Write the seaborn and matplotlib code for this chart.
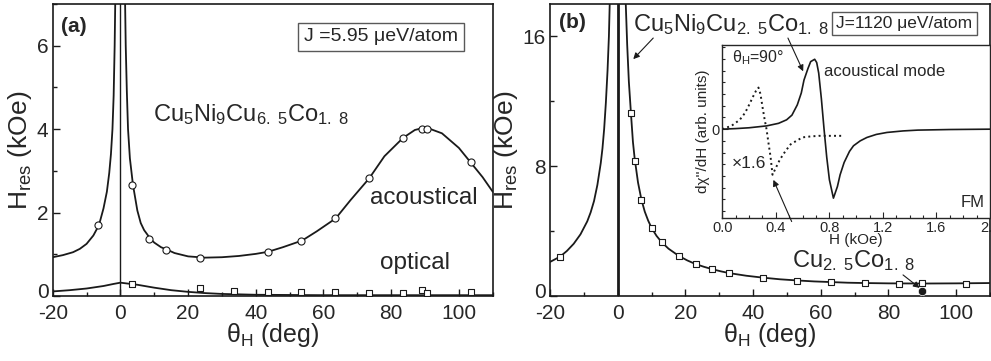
import matplotlib
matplotlib.use("Agg")
import matplotlib.pyplot as plt
import seaborn as sns
from matplotlib.ticker import MultipleLocator
from matplotlib.transforms import ScaledTranslation

# ---------------- datos panel (a) ----------------
theta_a_ac = [-6.5, 3.5, 8.5, 13.5, 23.5, 43.5, 53.5, 63.5, 73.5, 83.5, 89, 90.5, 103.5]
h_a_ac = [1.71, 2.67, 1.37, 1.11, 0.92, 1.06, 1.33, 1.86, 2.82, 3.79, 4.01, 4.01, 3.21]
theta_a_op = [3.5, 23.5, 33.5, 43.5, 53.5, 63.5, 73.5, 83.5, 89, 90.5, 103.5]
h_a_op = [0.29, 0.19, 0.11, 0.10, 0.09, 0.09, 0.08, 0.08, 0.14, 0.08, 0.09]

# curva teorica acustica (a), rama izquierda y derecha
fit_a_left_x = [-20, -17, -14, -12, -10, -8, -7, -6, -5, -4, -3.3, -2.8, -2.35, -2.0, -1.7, -1.5]
fit_a_left_y = [0.93, 0.98, 1.05, 1.13, 1.25, 1.45, 1.6, 1.8, 2.1, 2.5, 2.95, 3.4, 4.0, 4.8, 6.0, 7.2]
fit_a_right_x = [1.35, 1.57, 1.9, 2.25, 2.8, 3.7, 5, 6, 7, 8.8, 10, 12, 13.8, 16, 20, 25, 30, 35,
                 40, 43.6, 48, 53.7, 58, 63.6, 68, 73.5, 78, 83.5, 87, 89, 91, 95, 100, 103.4, 107, 110]
fit_a_right_y = [7.2, 6.0, 4.9, 4.0, 3.3, 2.67, 2.05, 1.75, 1.58, 1.38, 1.28, 1.17, 1.11, 1.03, 0.95,
                 0.92, 0.93, 0.96, 1.01, 1.06, 1.17, 1.33, 1.55, 1.86, 2.3, 2.82, 3.35, 3.79, 3.98,
                 4.02, 4.02, 3.9, 3.55, 3.21, 2.85, 2.5]
# curva optica (a)
fit_a_op_x = [-20, -15, -10, -5, -2, 0, 2, 5, 10, 15, 20, 25, 30, 40, 50, 60, 80, 110]
fit_a_op_y = [0.11, 0.14, 0.18, 0.24, 0.29, 0.32, 0.30, 0.27, 0.20, 0.14, 0.10, 0.07, 0.05, 0.03,
              0.025, 0.02, 0.02, 0.02]

# ---------------- datos panel (b) ----------------
theta_b = [-17, 4, 5, 7, 10, 13, 18, 23, 28, 33, 43, 53, 63, 73, 83, 90, 103]
h_b = [2.43, 11.3, 8.33, 5.93, 4.18, 3.31, 2.49, 1.95, 1.65, 1.40, 1.13, 0.95, 0.86, 0.78, 0.76, 0.78, 0.76]
theta_b_fm = [90]
h_b_fm = [0.31]

fit_b_left_x = [-20, -17, -15, -13, -11, -9, -8, -7, -6, -5, -4.5, -4, -3.5, -3, -2.6, -2.3]
fit_b_left_y = [2.1, 2.43, 2.78, 3.22, 3.8, 4.6, 5.15, 5.85, 6.85, 8.2, 9.1, 10.3, 11.9, 13.9, 16, 18.5]
fit_b_right_x = [2.3, 2.8, 3.3, 4, 4.5, 5, 6, 7, 8, 9, 10, 11.5, 13, 15, 18, 20.5, 23, 25.5, 28,
                 30.5, 33, 38, 43, 48, 53, 58, 63, 68, 73, 80, 90, 100, 110]
fit_b_right_y = [18.5, 15.5, 13.2, 11.0, 9.5, 8.5, 7.0, 5.95, 5.2, 4.65, 4.2, 3.7, 3.32, 2.92, 2.48,
                 2.2, 1.97, 1.8, 1.65, 1.52, 1.41, 1.25, 1.13, 1.03, 0.96, 0.9, 0.86, 0.82, 0.8,
                 0.78, 0.77, 0.78, 0.8]

# ---------------- datos del recuadro (espectros) ----------------
h_ac = [0.0, 0.1, 0.2, 0.33, 0.42, 0.48, 0.52, 0.56, 0.59, 0.61, 0.64, 0.66, 0.69, 0.705, 0.72,
        0.74, 0.76, 0.78, 0.8, 0.83, 0.86, 0.88, 0.91, 0.95, 0.98, 1.03, 1.08, 1.15, 1.23, 1.35,
        1.46, 1.7, 2.0]
sig_ac = [0.0, 0.05, 0.12, 0.28, 0.5, 0.8, 1.2, 2.08, 3.1, 4.2, 5.2, 5.78, 5.98, 5.7, 4.8, 2.6,
          0.0, -2.4, -4.33, -5.9, -4.9, -3.9, -2.85, -1.9, -1.42, -1.0, -0.71, -0.45, -0.28,
          -0.15, -0.08, -0.03, 0.0]
h_op = [0.0, 0.07, 0.13, 0.17, 0.2, 0.23, 0.25, 0.27, 0.285, 0.3, 0.315, 0.33, 0.345, 0.36,
        0.375, 0.4, 0.43, 0.47, 0.51, 0.56, 0.6, 0.66, 0.72, 0.8, 0.89]
sig_op = [0.0, 0.3, 0.8, 1.4, 2.08, 2.8, 3.25, 3.56, 3.0, 1.9, 0.9, 0.0, -1.2, -2.34, -3.9, -3.3,
          -2.6, -1.9, -1.3, -0.95, -0.7, -0.62, -0.57, -0.57, -0.57]

# ---------------- estilo ----------------
sns.set_theme(style="ticks")
plt.rcParams['font.family'] = ['Liberation Sans', 'DejaVu Sans']
plt.rcParams['mathtext.fontset'] = 'custom'
plt.rcParams['mathtext.rm'] = 'Liberation Sans'
plt.rcParams['mathtext.it'] = 'Liberation Sans:italic'
plt.rcParams['mathtext.bf'] = 'Liberation Sans:bold'
plt.rcParams['axes.unicode_minus'] = False

fig = plt.figure(figsize=(9.91, 3.61), dpi=100)
ax_a = fig.add_axes([0.0532, 0.180, 0.444, 0.809])
ax_b = fig.add_axes([0.555, 0.180, 0.444, 0.809])

lw = 1.3
for ax in (ax_a, ax_b):
    for s in ax.spines.values():
        s.set_linewidth(1.2)
        s.set_color('k')
    ax.tick_params(which='both', direction='in', labelsize=15, color='k', pad=3)
    ax.tick_params(axis='x', pad=5.5)
    ax.tick_params(which='major', length=5, width=1)
    ax.tick_params(which='minor', length=3, width=1)
    ax.set_xlim(-20, 110)
    ax.xaxis.set_major_locator(MultipleLocator(20))
    ax.xaxis.set_minor_locator(MultipleLocator(10))
    ax.set_xlabel('θ$_\\mathrm{H}$ (deg)', fontsize=18, labelpad=-1)
    ax.set_ylabel('H$_\\mathrm{res}$ (kOe)', fontsize=19, labelpad=2)

# ---------------- panel (a) ----------------
ax_a.axvline(0, color='k', lw=1.0)
sns.lineplot(x=fit_a_left_x, y=fit_a_left_y, ax=ax_a, color='k', lw=lw)
sns.lineplot(x=fit_a_right_x, y=fit_a_right_y, ax=ax_a, color='k', lw=lw)
sns.lineplot(x=fit_a_op_x, y=fit_a_op_y, ax=ax_a, color='k', lw=lw)
sns.scatterplot(x=theta_a_ac, y=h_a_ac, ax=ax_a, marker='o', s=26, facecolor='white',
                edgecolor='k', linewidth=0.8, zorder=5)
sns.scatterplot(x=theta_a_op, y=h_a_op, ax=ax_a, marker='s', s=22, facecolor='white',
                edgecolor='k', linewidth=0.8, zorder=5)
ax_a.set_ylim(0, 7)
ax_a.yaxis.set_major_locator(MultipleLocator(2))
ax_a.yaxis.set_minor_locator(MultipleLocator(1))

ax_a.text(-13.8, 6.47, '(a)', fontsize=15, fontweight='bold', ha='center', va='center')
ax_a.text(77, 6.21, 'J =5.95 μeV/atom', fontsize=14, ha='center', va='center',
          bbox=dict(boxstyle='square,pad=0.3', fc='white', ec='0.35', lw=1.0))
ax_a.text(9.6, 4.35, 'Cu$_5$Ni$_9$Cu$_{6.\\ 5}$Co$_{1.\\ 8}$', fontsize=17, ha='left', va='center')
ax_a.text(73.8, 2.36, 'acoustical', fontsize=17.5, ha='left', va='center')
ax_a.text(76.7, 0.79, 'optical', fontsize=17.5, ha='left', va='center')

# ---------------- panel (b) ----------------
ax_b.axvline(0, color='k', lw=2.0)
sns.lineplot(x=fit_b_left_x, y=fit_b_left_y, ax=ax_b, color='k', lw=lw)
sns.lineplot(x=fit_b_right_x, y=fit_b_right_y, ax=ax_b, color='k', lw=lw)
sns.scatterplot(x=theta_b, y=h_b, ax=ax_b, marker='s', s=24, facecolor='white',
                edgecolor='k', linewidth=0.8, zorder=5)
sns.scatterplot(x=theta_b_fm, y=h_b_fm, ax=ax_b, marker='o', s=36, color='k', zorder=6)
ax_b.set_ylim(0, 18)
ax_b.yaxis.set_major_locator(MultipleLocator(8))
ax_b.yaxis.set_minor_locator(MultipleLocator(4))

ax_b.text(-13.3, 16.85, '(b)', fontsize=15, fontweight='bold', ha='center', va='center')
ax_b.text(4.6, 16.75, 'Cu$_5$Ni$_9$Cu$_{2.\\ 5}$Co$_{1.\\ 8}$', fontsize=17, ha='left', va='center')
ax_b.text(84.7, 16.8, 'J=1120 μeV/atom', fontsize=12.5, ha='center', va='center',
          bbox=dict(boxstyle='square,pad=0.25', fc='white', ec='0.35', lw=1.0))
ax_b.text(51.4, 2.2, 'Cu$_{2.\\ 5}$Co$_{1.\\ 8}$', fontsize=17, ha='left', va='center')

arrow = dict(arrowstyle='-|>', lw=0.8, color='k', mutation_scale=9, shrinkA=0, shrinkB=0)
ax_b.annotate('', xy=(4.6, 14.6), xytext=(10.5, 15.9), arrowprops=arrow)
ax_b.annotate('', xy=(89.2, 0.5), xytext=(84.3, 1.3), arrowprops=arrow, zorder=7)

# ---------------- recuadro ----------------
ax_in = fig.add_axes([0.7289, 0.3961, 0.2701, 0.4792])
sns.lineplot(x=h_ac, y=sig_ac, ax=ax_in, color='k', lw=1.2, sort=False)
sns.lineplot(x=h_op, y=sig_op, ax=ax_in, color='k', lw=1.4, ls=':', sort=False)
ax_in.set_xlim(0, 2.0)
ax_in.set_ylim(-7.6, 7.2)
ax_in.set_xticks([0.0, 0.4, 0.8, 1.2, 1.6, 2.0])
ax_in.set_xticklabels(['0.0', '0.4', '0.8', '1.2', '1.6', '2.0'])
ax_in.xaxis.set_minor_locator(MultipleLocator(0.1))
ax_in.set_yticks([0])
ax_in.yaxis.set_minor_locator(MultipleLocator(1))
ax_in.tick_params(which='both', direction='in', labelsize=10.5, pad=2)
ax_in.tick_params(which='major', length=4, width=0.8)
ax_in.tick_params(which='minor', length=2.5, width=0.8)
for s in ax_in.spines.values():
    s.set_linewidth(1.0)
ax_in.set_xlabel('H (kOe)', fontsize=11, labelpad=-1)
ax_in.set_ylabel("dχ''/dH (arb. units)", fontsize=11, labelpad=1)

ax_in.text(0.07, 6.1, 'θ$_\\mathrm{H}$=90°', fontsize=11.5, ha='left', va='center')
ax_in.text(0.76, 4.9, 'acoustical mode', fontsize=12, ha='left', va='center')
ax_in.text(0.07, -2.9, '×1.6', fontsize=12.5, ha='left', va='center')
ax_in.text(1.96, -6.3, 'FM', fontsize=12, ha='right', va='center')

# flechas que cruzan el recuadro (en coordenadas del panel b)
ax_in.annotate('', xy=(54.8, 13.85), xycoords=ax_b.transData,
               xytext=(50.3, 15.9), textcoords=ax_b.transData,
               arrowprops=arrow, annotation_clip=False)
ax_in.annotate('', xy=(46.0, 7.16), xycoords=ax_b.transData,
               xytext=(51.4, 4.59), textcoords=ax_b.transData,
               arrowprops=arrow, annotation_clip=False)

# subir un poco la etiqueta "0" del eje y para que no choque con "-20"
fig.canvas.draw()
for ax in (ax_a, ax_b):
    for tk in ax.yaxis.get_major_ticks():
        if tk.label1.get_text() == '0':
            tk.label1.set_transform(tk.label1.get_transform()
                                    + ScaledTranslation(0, 4 / 72, fig.dpi_scale_trans))

fig.savefig('out.png', dpi=100)
